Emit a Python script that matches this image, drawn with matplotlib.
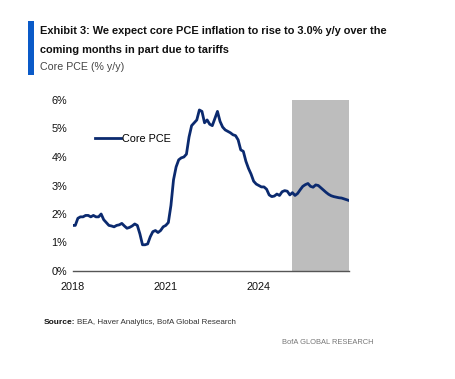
import matplotlib.pyplot as plt
import numpy as np
from matplotlib.patches import Rectangle

# monthly core PCE % y/y, Jan 2018 .. Dec 2026 (2025+ is forecast)
core_pce_2018 = [1.6, 1.6, 1.85, 1.9, 1.9, 1.95, 1.95, 1.9, 1.95, 1.9, 1.9, 2.0]
core_pce_2019 = [1.8, 1.7, 1.6, 1.58, 1.55, 1.6, 1.62, 1.67, 1.58, 1.5, 1.53, 1.58]
core_pce_2020 = [1.65, 1.6, 1.3, 0.92, 0.92, 0.95, 1.2, 1.38, 1.42, 1.35, 1.42, 1.55]
core_pce_2021 = [1.6, 1.7, 2.3, 3.2, 3.65, 3.9, 3.97, 4.0, 4.1, 4.7, 5.1, 5.2]
core_pce_2022 = [5.3, 5.65, 5.6, 5.2, 5.3, 5.15, 5.1, 5.35, 5.6, 5.25, 5.05, 4.95]
core_pce_2023 = [4.9, 4.85, 4.78, 4.75, 4.6, 4.25, 4.2, 3.85, 3.6, 3.4, 3.15, 3.05]
core_pce_2024 = [3.0, 2.95, 2.95, 2.87, 2.67, 2.61, 2.63, 2.7, 2.65, 2.78, 2.82, 2.8]
core_pce_2025 = [2.67, 2.75, 2.65, 2.72, 2.85, 2.97, 3.03, 3.07, 2.97, 2.94, 3.02, 3.0]
core_pce_2026 = [2.92, 2.84, 2.76, 2.69, 2.64, 2.61, 2.59, 2.57, 2.56, 2.53, 2.5, 2.47]

core_pce = (core_pce_2018 + core_pce_2019 + core_pce_2020 + core_pce_2021 + core_pce_2022
            + core_pce_2023 + core_pce_2024 + core_pce_2025 + core_pce_2026)
start_year = 2018
forecast_start = 2025 + 1 / 12
x_ticks = [2018, 2021, 2024]
y_ticks = [0, 1, 2, 3, 4, 5, 6]

dates = start_year + np.arange(len(core_pce)) / 12

NAVY = '#0b2a6f'
W, H = 455, 379
plt.rcParams['font.family'] = ['Liberation Sans', 'DejaVu Sans']

fig = plt.figure(figsize=(W / 100, H / 100), dpi=100)
renderer = fig.canvas.get_renderer()


def fit_text(x_px, y_px, s, width_px, ha='left', **kw):
    """Place text at pixel coords and scale it to the given pixel width."""
    t = fig.text(x_px / W, 1 - y_px / H, s, fontsize=10, va='center', ha=ha, **kw)
    w = t.get_window_extent(renderer).width
    t.set_fontsize(10 * width_px / w)
    return t


ax = fig.add_axes([72.7 / W, 1 - 271 / H, 276.6 / W, 171 / H])

ax.axvspan(forecast_start, dates[-1], color='#bdbdbd', lw=0, zorder=0)
ax.plot(dates, core_pce, color=NAVY, lw=2.0, label='Core PCE', zorder=3)

ax.set_xlim(dates[0], dates[-1])
ax.set_ylim(0, 6)
ax.set_xticks(x_ticks)
ax.set_xticklabels([str(t) for t in x_ticks])
ax.set_yticks(y_ticks)
ax.set_yticklabels([f'{t}%' for t in y_ticks])
ax.tick_params(axis='x', length=0, labelsize=7.8, pad=8, labelcolor='#111111')
ax.tick_params(axis='y', length=0, labelsize=7.8, pad=4, labelcolor='#111111')
for s in ['top', 'right', 'left']:
    ax.spines[s].set_visible(False)
ax.spines['bottom'].set_color('#555555')
ax.spines['bottom'].set_linewidth(1.0)

ax.legend(loc='upper left', bbox_to_anchor=(0.08, 0.8), frameon=False, fontsize=7.8,
          handlelength=2.4, handletextpad=0.1, borderaxespad=0, borderpad=0)

# header
fig.patches.append(Rectangle((28 / W, 1 - 75 / H), 6 / W, 54 / H,
                             transform=fig.transFigure, color='#0a5ac8', lw=0))
fit_text(40, 31, 'Exhibit 3: We expect core PCE inflation to rise to 3.0% y/y over the', 345,
         fontweight='bold', color='#111111')
fit_text(40, 50, 'coming months in part due to tariffs', 188,
         fontweight='bold', color='#111111')
fit_text(40, 67, 'Core PCE (% y/y)', 84, color='#444444')

# footer
fit_text(44, 323, 'Source:', 31, fontweight='bold', color='#111111')
fit_text(77, 323, 'BEA, Haver Analytics, BofA Global Research', 158, color='#333333')
fit_text(373, 342, 'BofA GLOBAL RESEARCH', 92, ha='right', color='#777777')

fig.savefig('out.png', dpi=100)
